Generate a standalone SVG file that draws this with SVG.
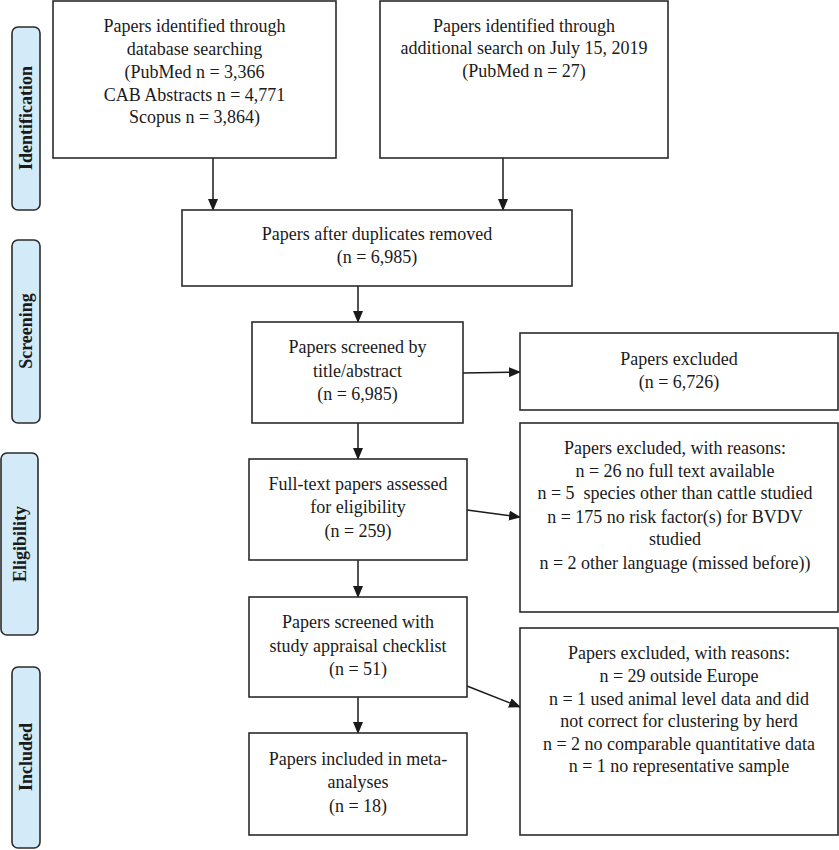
<svg xmlns="http://www.w3.org/2000/svg" width="839" height="850" viewBox="0 0 839 850">
<style>
.box{fill:#fff;stroke:#2b2b2b;stroke-width:1.6}
.phase{fill:#d3eaf8;stroke:#2b2b2b;stroke-width:1.6}
.t{font-family:"Liberation Serif","Times New Roman",serif;font-size:18px;fill:#1a1a1a;text-anchor:middle}
.pt{font-family:"Liberation Serif","Times New Roman",serif;font-size:18px;font-weight:bold;fill:#1a1a1a;text-anchor:middle}
.c{stroke:#1a1a1a;stroke-width:1.5;fill:none;marker-end:url(#ah)}
</style>
<defs>
<marker id="ah" markerUnits="userSpaceOnUse" markerWidth="12" markerHeight="10" refX="11" refY="5" orient="auto">
<path d="M0,0 L12,5 L0,10 Z" fill="#1a1a1a"/>
</marker>
</defs>
<rect width="839" height="850" fill="#fff"/>
<g id="phase-identification"><rect class="phase" x="12" y="27" width="28" height="183" rx="6"/><text class="pt" transform="translate(32,118) rotate(-90)">Identification</text></g>
<g id="phase-screening"><rect class="phase" x="12" y="240" width="28" height="183" rx="6"/><text class="pt" transform="translate(32,331) rotate(-90)">Screening</text></g>
<g id="phase-eligibility"><rect class="phase" x="1" y="453" width="37" height="182" rx="6"/><text class="pt" transform="translate(26,544) rotate(-90)">Eligibility</text></g>
<g id="phase-included"><rect class="phase" x="12" y="667" width="28" height="181" rx="6"/><text class="pt" transform="translate(32,757) rotate(-90)">Included</text></g>

<g id="connectors">
<line class="c" x1="213" y1="158" x2="213" y2="210"/>
<line class="c" x1="503" y1="158" x2="503" y2="210"/>
<line class="c" x1="358" y1="286" x2="358" y2="322"/>
<line class="c" x1="463" y1="373" x2="520" y2="372"/>
<line class="c" x1="358" y1="423" x2="358" y2="459"/>
<line class="c" x1="467" y1="510" x2="520" y2="517"/>
<line class="c" x1="358" y1="560" x2="358" y2="597"/>
<line class="c" x1="467" y1="686" x2="520" y2="707"/>
<line class="c" x1="358" y1="697" x2="358" y2="733"/>
</g>

<g id="n1"><rect class="box" x="53" y="1" width="283" height="157"/>
<text class="t" x="194.5" y="32">Papers identified through</text>
<text class="t" x="194.5" y="55">database searching</text>
<text class="t" x="194.5" y="78">(PubMed n = 3,366</text>
<text class="t" x="194.5" y="101">CAB Abstracts n = 4,771</text>
<text class="t" x="194.5" y="123">Scopus n = 3,864)</text></g>
<g id="n2"><rect class="box" x="380" y="1" width="288" height="157"/>
<text class="t" x="524" y="32">Papers identified through</text>
<text class="t" x="524" y="54">additional search on July 15, 2019</text>
<text class="t" x="524" y="77">(PubMed n = 27)</text></g>
<g id="n3"><rect class="box" x="182" y="210" width="390" height="76"/>
<text class="t" x="377" y="240">Papers after duplicates removed</text>
<text class="t" x="377" y="263">(n = 6,985)</text></g>
<g id="n4"><rect class="box" x="252" y="322" width="211" height="101"/>
<text class="t" x="357.5" y="353">Papers screened by</text>
<text class="t" x="357.5" y="377">title/abstract</text>
<text class="t" x="357.5" y="400">(n = 6,985)</text></g>
<g id="n5"><rect class="box" x="520" y="333" width="318" height="77"/>
<text class="t" x="679" y="365">Papers excluded</text>
<text class="t" x="679" y="388">(n = 6,726)</text></g>
<g id="n6"><rect class="box" x="249" y="459" width="218" height="101"/>
<text class="t" x="358" y="490">Full-text papers assessed</text>
<text class="t" x="358" y="513">for eligibility</text>
<text class="t" x="358" y="537">(n = 259)</text></g>
<g id="n7"><rect class="box" x="520" y="423" width="318" height="189"/>
<text class="t" x="675" y="454">Papers excluded, with reasons:</text>
<text class="t" x="675" y="477">n = 26 no full text available</text>
<text class="t" x="675" y="499" xml:space="preserve">n = 5  species other than cattle studied</text>
<text class="t" x="675" y="523">n = 175 no risk factor(s) for BVDV</text>
<text class="t" x="675" y="545">studied</text>
<text class="t" x="675" y="569">n = 2 other language (missed before))</text></g>
<g id="n8"><rect class="box" x="249" y="597" width="218" height="100"/>
<text class="t" x="358" y="628">Papers screened with</text>
<text class="t" x="358" y="652">study appraisal checklist</text>
<text class="t" x="358" y="675">(n = 51)</text></g>
<g id="n9"><rect class="box" x="520" y="628" width="318" height="207"/>
<text class="t" x="679" y="659">Papers excluded, with reasons:</text>
<text class="t" x="679" y="682">n = 29 outside Europe</text>
<text class="t" x="679" y="705">n = 1 used animal level data and did</text>
<text class="t" x="679" y="727">not correct for clustering by herd</text>
<text class="t" x="679" y="750">n = 2 no comparable quantitative data</text>
<text class="t" x="679" y="772">n = 1 no representative sample</text></g>
<g id="n10"><rect class="box" x="249" y="733" width="218" height="102"/>
<text class="t" x="358" y="765">Papers included in meta-</text>
<text class="t" x="358" y="788">analyses</text>
<text class="t" x="358" y="812">(n = 18)</text></g>
</svg>
